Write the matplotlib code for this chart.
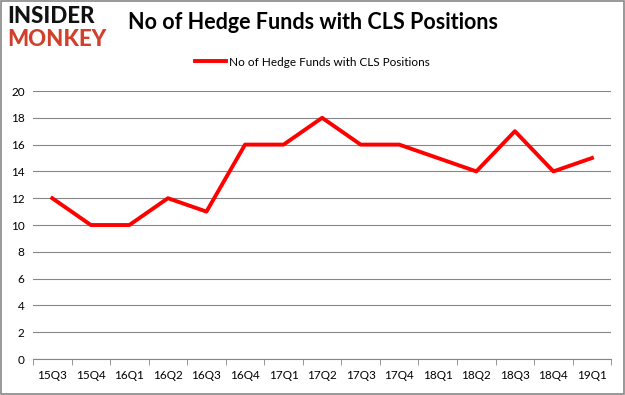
import matplotlib.pyplot as plt
import numpy as np
from matplotlib.patches import Rectangle

quarters = ["15Q3", "15Q4", "16Q1", "16Q2", "16Q3", "16Q4", "17Q1", "17Q2",
            "17Q3", "17Q4", "18Q1", "18Q2", "18Q3", "18Q4", "19Q1"]
hedge_funds = [12, 10, 10, 12, 11, 16, 16, 18, 16, 16, 15, 14, 17, 14, 15]
y_ticks = [0, 2, 4, 6, 8, 10, 12, 14, 16, 18, 20]

plt.rcParams['font.family'] = ['Lato', 'DejaVu Sans']

fig = plt.figure(figsize=(6.25, 3.95), dpi=100)
ax = fig.add_axes([0.0528, 0.0911, 0.9252, 0.6785])

x = np.arange(len(quarters))
ax.plot(x, hedge_funds, color='#ff0000', linewidth=2.8,
        label='No of Hedge Funds with CLS Positions')

ax.set_xlim(-0.5, len(quarters) - 0.5)
ax.set_ylim(0, 20)
ax.set_yticks(y_ticks)
ax.set_xticks(x)
ax.set_xticklabels(quarters)
ax.set_xticks(np.arange(-0.5, len(quarters)), minor=True)
ax.tick_params(axis='x', which='major', length=0, labelsize=8.5, pad=8)
ax.tick_params(axis='x', which='minor', length=4, color='#868686')
ax.tick_params(axis='y', length=0, labelsize=8.5, pad=6)
ax.grid(axis='y', color='#868686', linewidth=0.8)
ax.set_axisbelow(True)
for side in ['top', 'right', 'left']:
    ax.spines[side].set_visible(False)
ax.spines['bottom'].set_color('#868686')

fig.legend(loc='center', bbox_to_anchor=(0.5, 0.843), frameon=False,
           fontsize=8.5, handlelength=2.6, handletextpad=0.3)

fig.text(0.5, 0.944, 'No of Hedge Funds with CLS Positions', ha='center',
         va='center', fontsize=15.5, fontweight='bold')

# logo
fig.text(0.012, 0.958, 'INSIDER', fontsize=16, fontweight='black',
         color='#111111', va='center', ha='left')
fig.text(0.012, 0.9, 'MONKEY', fontsize=16, fontweight='black',
         color='#d0402b', va='center', ha='left')

fig.patches.append(Rectangle((0.0015, 0.0025), 0.997, 0.995, transform=fig.transFigure,
                             fill=False, edgecolor='#888888', linewidth=1.2))

fig.savefig('out.png', dpi=100)
